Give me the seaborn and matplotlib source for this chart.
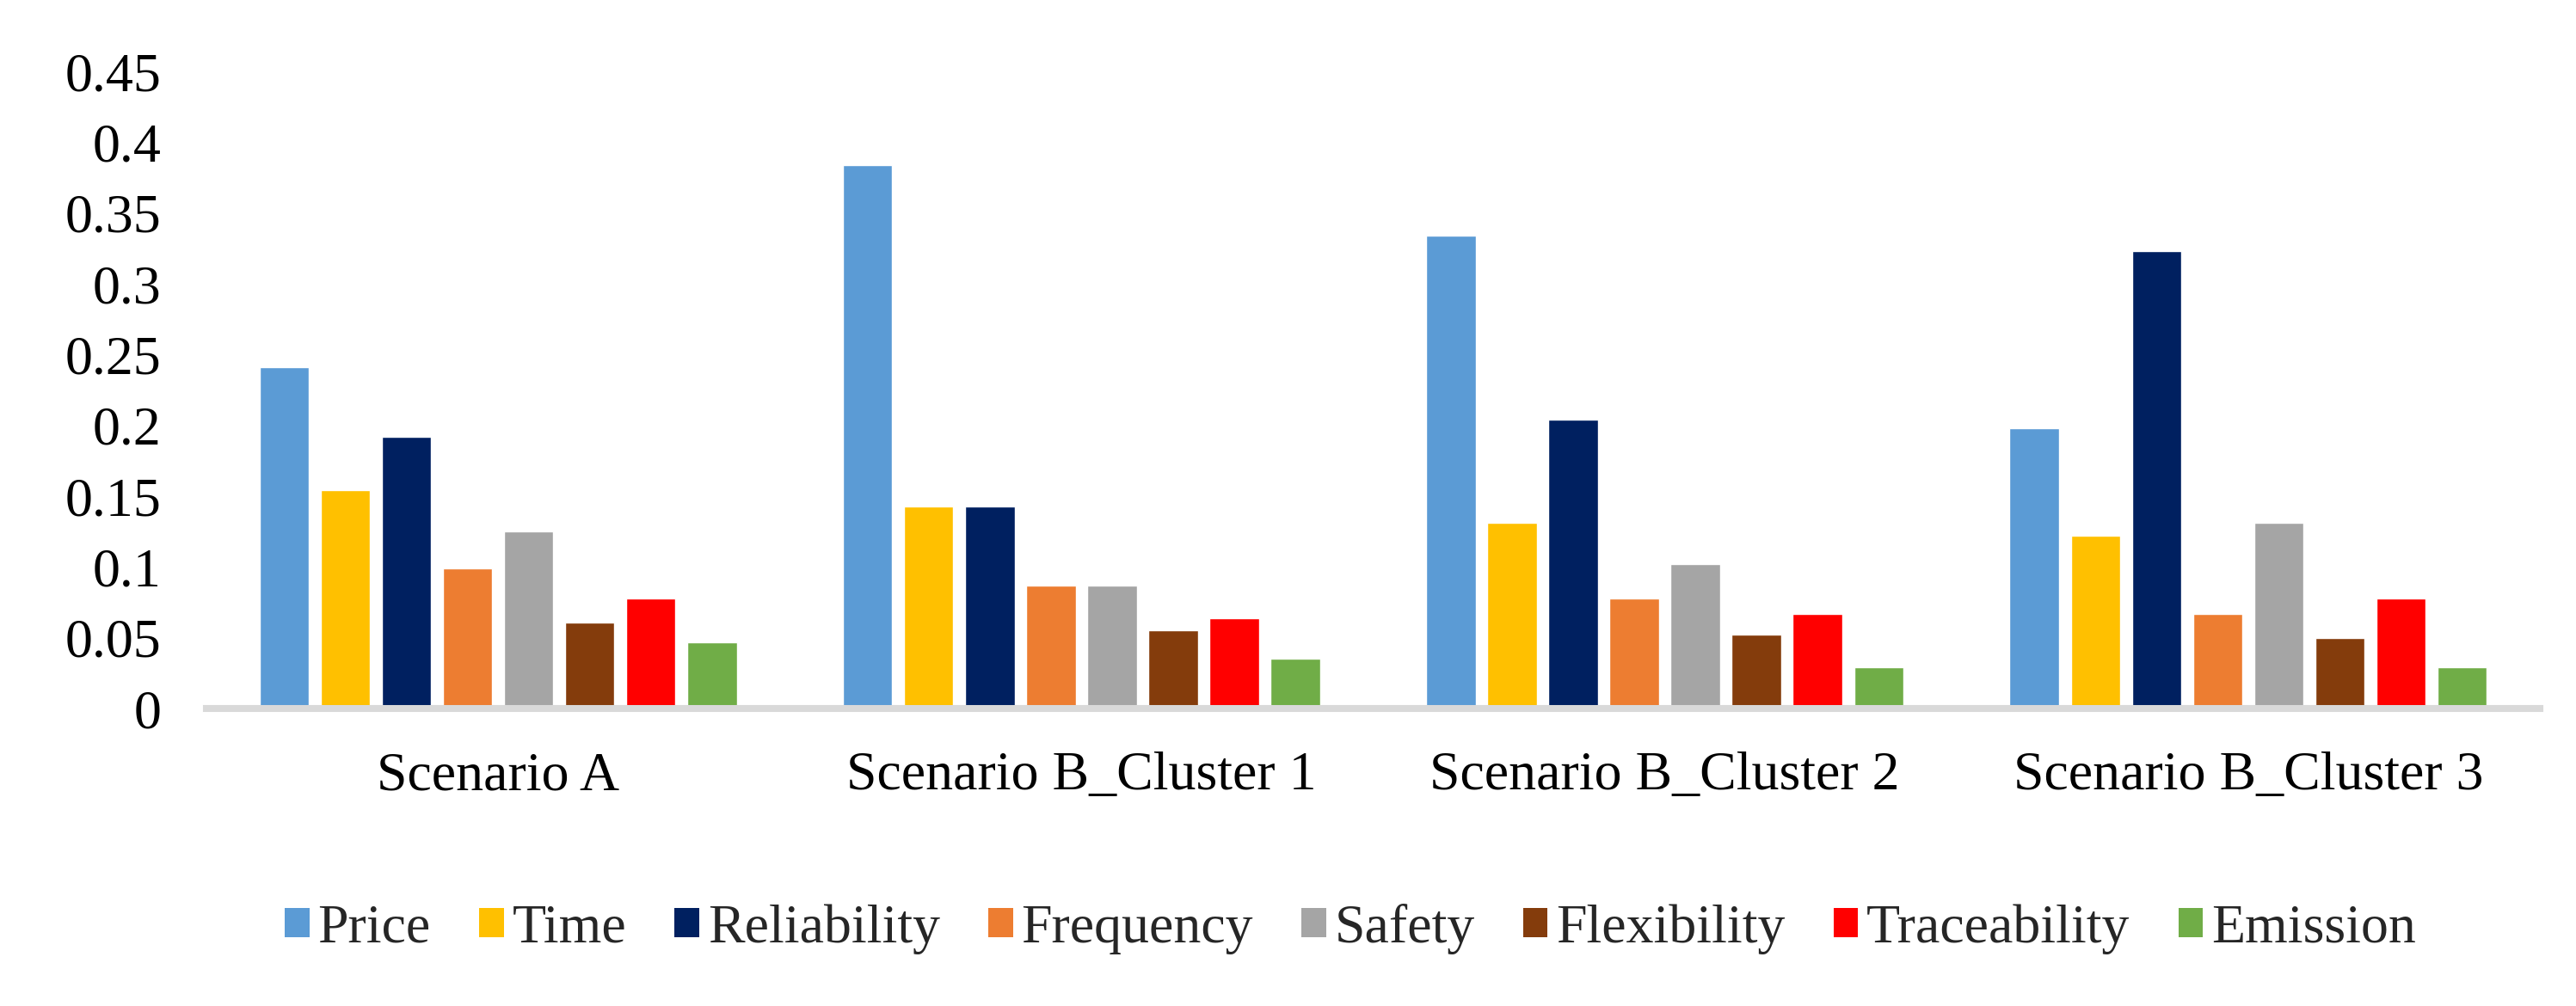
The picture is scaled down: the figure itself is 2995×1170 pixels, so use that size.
import matplotlib
matplotlib.use("Agg")
import matplotlib.pyplot as plt
from matplotlib.patches import Patch
import seaborn as sns
import pandas as pd

scenarios = ["Scenario A", "Scenario B_Cluster 1", "Scenario B_Cluster 2", "Scenario B_Cluster 3"]
criteria = ["Price", "Time", "Reliability", "Frequency", "Safety", "Flexibility", "Traceability", "Emission"]

price = [0.241, 0.384, 0.334, 0.198]
time_ = [0.154, 0.143, 0.131, 0.122]
reliability = [0.192, 0.143, 0.204, 0.323]
frequency = [0.099, 0.087, 0.078, 0.067]
safety = [0.125, 0.087, 0.102, 0.131]
flexibility = [0.061, 0.055, 0.052, 0.050]
traceability = [0.078, 0.064, 0.067, 0.078]
emission = [0.047, 0.035, 0.029, 0.029]

colors = ["#5B9BD5", "#FFC000", "#002060", "#ED7D31", "#A5A5A5", "#843C0C", "#FF0000", "#70AD47"]
yticks = [0, 0.05, 0.1, 0.15, 0.2, 0.25, 0.3, 0.35, 0.4, 0.45]
ytick_labels = ["0", "0.05", "0.1", "0.15", "0.2", "0.25", "0.3", "0.35", "0.4", "0.45"]

series = [price, time_, reliability, frequency, safety, flexibility, traceability, emission]
rows = []
for crit, vals in zip(criteria, series):
    for sc, v in zip(scenarios, vals):
        rows.append({"Scenario": sc, "Criterion": crit, "Value": v})
df = pd.DataFrame(rows)

sns.set_theme(style="white")
plt.rcParams['font.family'] = ['Liberation Serif', 'DejaVu Serif']

fig = plt.figure(figsize=(29.95, 11.7), dpi=100)
ax = fig.add_axes([0.0801, 0.2957, 0.986 - 0.0801, 0.929 - 0.2957])

sns.barplot(data=df, x="Scenario", y="Value", hue="Criterion", order=scenarios,
            hue_order=criteria, palette=colors, width=0.838, gap=0.19,
            saturation=1, legend=False, ax=ax, errorbar=None)

ax.set_ylim(0, 0.45)
ax.set_xlim(-0.5, 3.5)
ax.set_yticks(yticks)
ax.set_yticklabels(ytick_labels)
ax.set_xlabel("")
ax.set_ylabel("")
for s in ["left", "right", "top"]:
    ax.spines[s].set_visible(False)
ax.spines["bottom"].set_color("#D9D9D9")
ax.spines["bottom"].set_linewidth(5.8)
ax.tick_params(axis="y", length=0, pad=38, labelsize=46, colors="black")
ax.tick_params(axis="x", length=0, pad=36, labelsize=46, colors="black")
ax.grid(False)

handles = [Patch(facecolor=c, edgecolor="none") for c in colors]
fig.legend(handles, criteria, loc="center", bbox_to_anchor=(1570 / 2995, 1 - 1080 / 1170),
           ncol=8, frameon=False, fontsize=46, handlelength=0.45, handleheight=0.45,
           handletextpad=0.15, columnspacing=0.88, borderpad=0)

fig.savefig("out.png", dpi=100)
